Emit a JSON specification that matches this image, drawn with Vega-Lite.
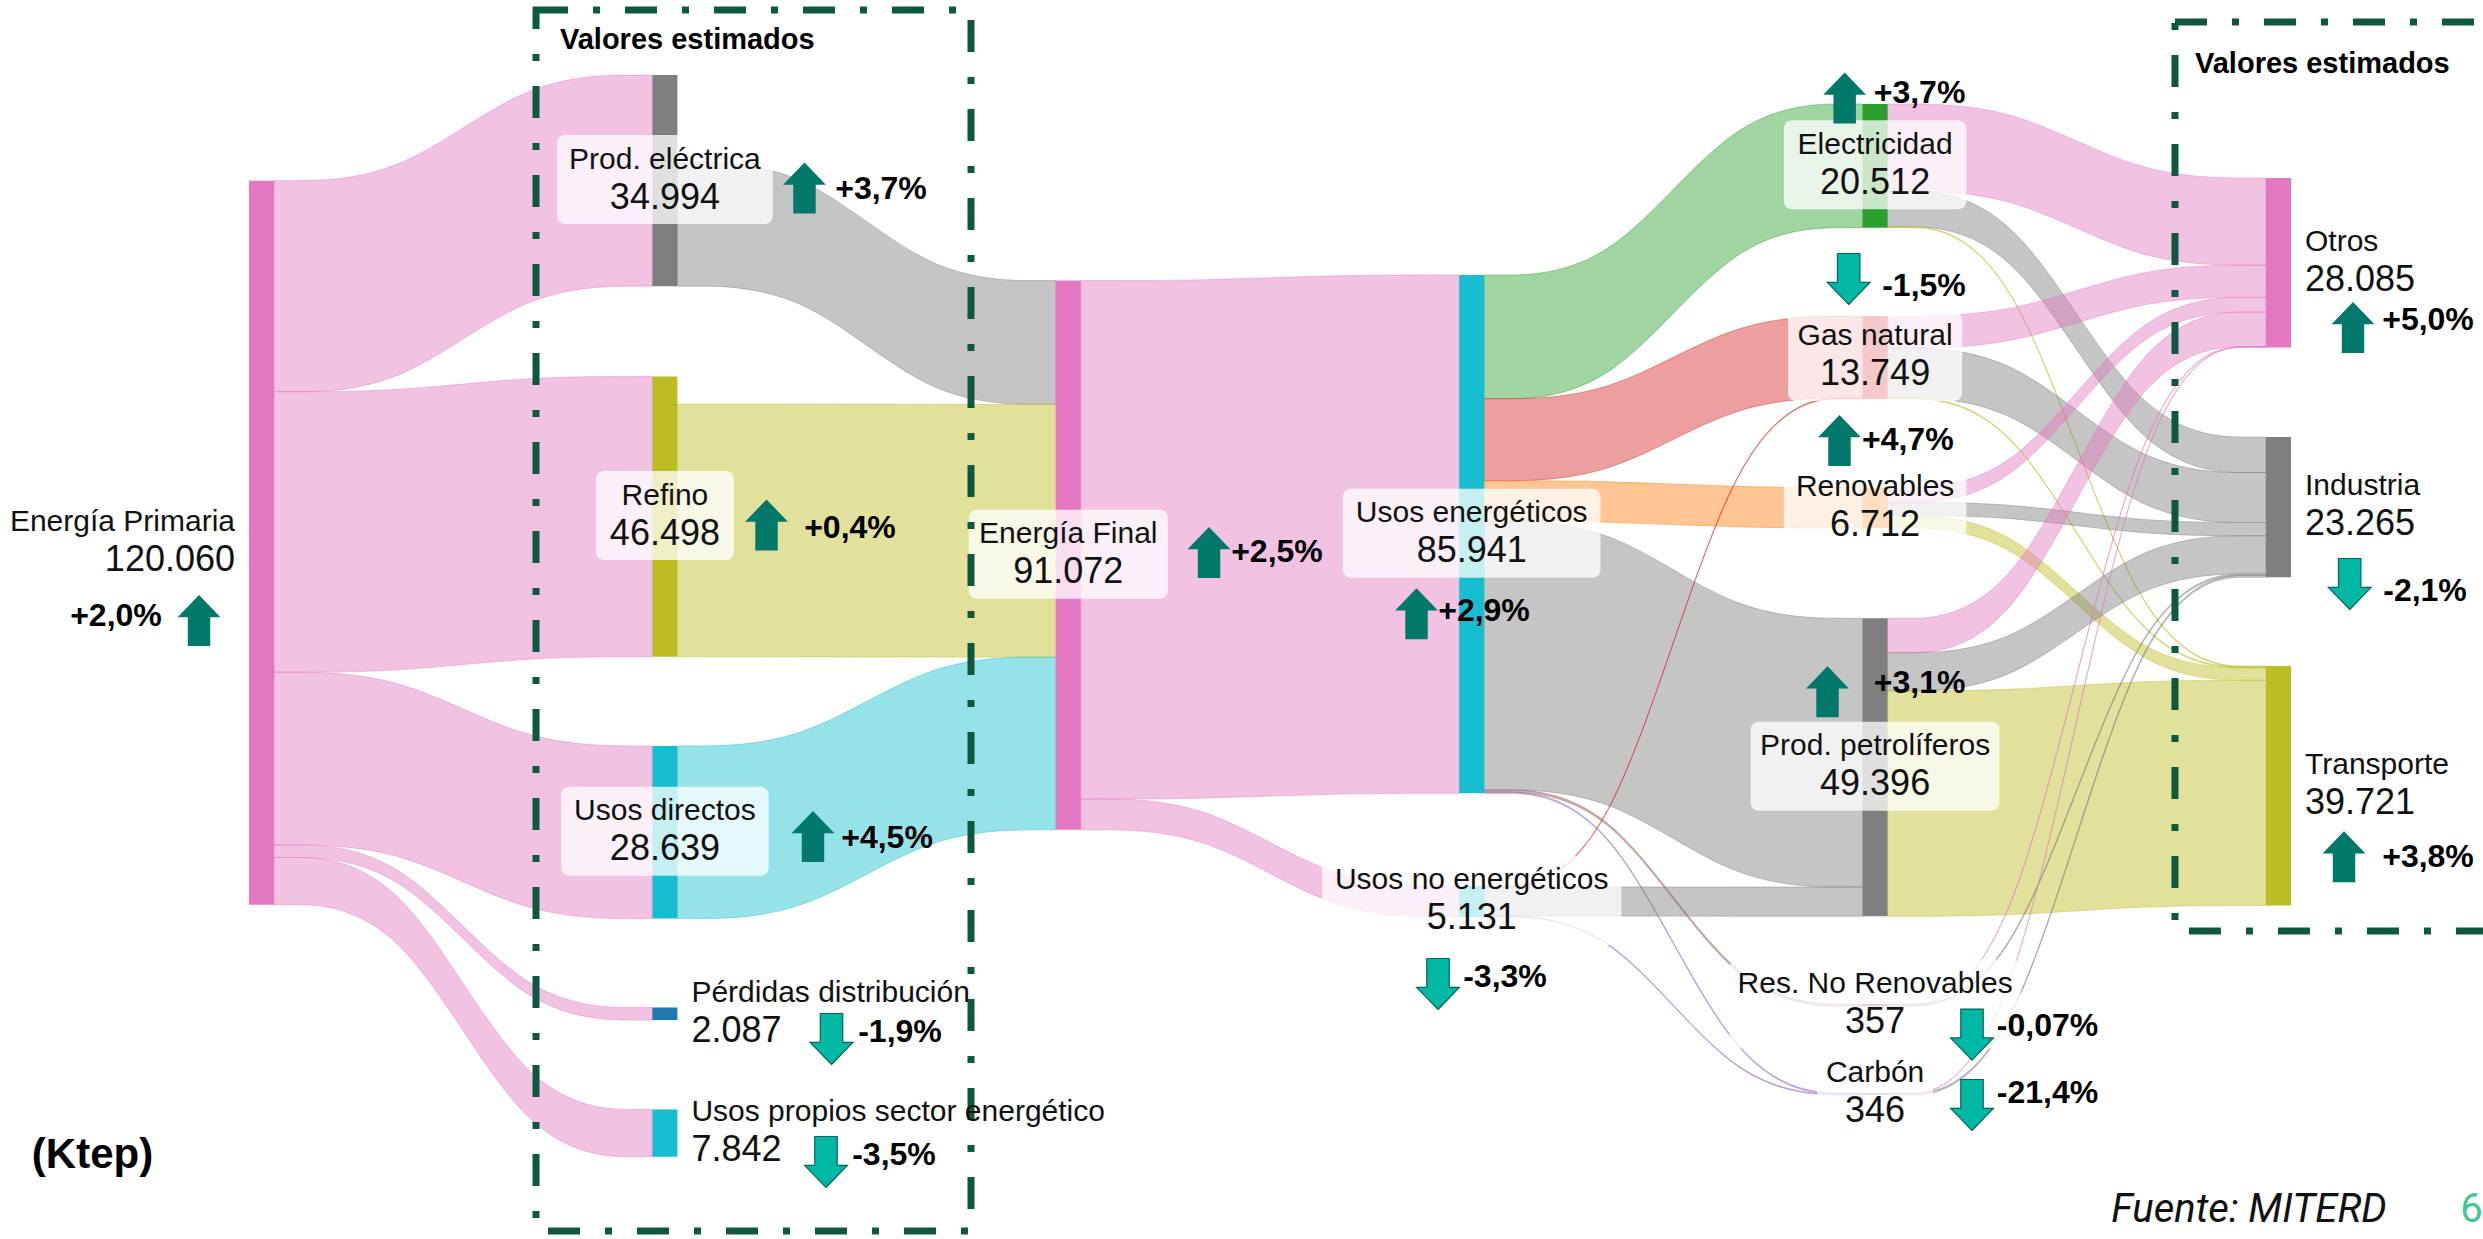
{
  "$schema": "https://vega.github.io/schema/vega-lite/v6.json",
  "width": 2483,
  "height": 1239,
  "padding": 0,
  "autosize": {"type": "none"},
  "background": "white",
  "config": {"view": {"stroke": null}},
  "datasets": {
    "nodos": [
      {"nodo": "Energía Primaria", "etapa": 0, "base": 29962, "valor": 120060, "lado": "izq"},
      {"nodo": "Prod. eléctrica", "etapa": 1, "base": 12452, "valor": 34994, "lado": "centro"},
      {"nodo": "Refino", "etapa": 1, "base": 62411, "valor": 46498, "lado": "centro"},
      {"nodo": "Usos directos", "etapa": 1, "base": 123678, "valor": 28639, "lado": "centro"},
      {"nodo": "Pérdidas distribución", "etapa": 1, "base": 167054, "valor": 2087, "lado": "der"},
      {"nodo": "Usos propios sector energético", "etapa": 1, "base": 183950, "valor": 7842, "lado": "der"},
      {"nodo": "Energía Final", "etapa": 2, "base": 46526, "valor": 91072, "lado": "centro"},
      {"nodo": "Usos energéticos", "etapa": 3, "base": 45598, "valor": 85941, "lado": "centro"},
      {"nodo": "Usos no energéticos", "etapa": 3, "base": 146908, "valor": 5131, "lado": "centro"},
      {"nodo": "Electricidad", "etapa": 4, "base": 17244, "valor": 20512, "lado": "centro"},
      {"nodo": "Gas natural", "etapa": 4, "base": 52396, "valor": 13749, "lado": "centro"},
      {"nodo": "Renovables", "etapa": 4, "base": 80832, "valor": 6712, "lado": "centro"},
      {"nodo": "Prod. petrolíferos", "etapa": 4, "base": 102520, "valor": 49396, "lado": "centro"},
      {"nodo": "Res. No Renovables", "etapa": 4, "base": 166473, "valor": 357, "lado": "centro"},
      {"nodo": "Carbón", "etapa": 4, "base": 181230, "valor": 346, "lado": "centro"},
      {"nodo": "Otros", "etapa": 5, "base": 29514, "valor": 28085, "lado": "der"},
      {"nodo": "Industria", "etapa": 5, "base": 72459, "valor": 23265, "lado": "der"},
      {"nodo": "Transporte", "etapa": 5, "base": 110429, "valor": 39721, "lado": "der"}
    ],
    "enlaces": [
      {"origen": "Energía Primaria", "destino": "Prod. eléctrica", "flujo": 34994},
      {"origen": "Energía Primaria", "destino": "Refino", "flujo": 46498},
      {"origen": "Energía Primaria", "destino": "Usos directos", "flujo": 28639},
      {"origen": "Energía Primaria", "destino": "Pérdidas distribución", "flujo": 2087},
      {"origen": "Energía Primaria", "destino": "Usos propios sector energético", "flujo": 7842},
      {"origen": "Prod. eléctrica", "destino": "Energía Final", "flujo": 20512},
      {"origen": "Refino", "destino": "Energía Final", "flujo": 41921},
      {"origen": "Usos directos", "destino": "Energía Final", "flujo": 28639},
      {"origen": "Energía Final", "destino": "Usos energéticos", "flujo": 85941},
      {"origen": "Energía Final", "destino": "Usos no energéticos", "flujo": 5131},
      {"origen": "Usos energéticos", "destino": "Electricidad", "flujo": 20512},
      {"origen": "Usos energéticos", "destino": "Gas natural", "flujo": 13599},
      {"origen": "Usos energéticos", "destino": "Renovables", "flujo": 6712},
      {"origen": "Usos energéticos", "destino": "Prod. petrolíferos", "flujo": 44561},
      {"origen": "Usos energéticos", "destino": "Res. No Renovables", "flujo": 357},
      {"origen": "Usos energéticos", "destino": "Carbón", "flujo": 200},
      {"origen": "Usos no energéticos", "destino": "Gas natural", "flujo": 150},
      {"origen": "Usos no energéticos", "destino": "Prod. petrolíferos", "flujo": 4835},
      {"origen": "Usos no energéticos", "destino": "Carbón", "flujo": 146},
      {"origen": "Electricidad", "destino": "Otros", "flujo": 14462},
      {"origen": "Electricidad", "destino": "Industria", "flujo": 5900},
      {"origen": "Electricidad", "destino": "Transporte", "flujo": 150},
      {"origen": "Gas natural", "destino": "Otros", "flujo": 5320},
      {"origen": "Gas natural", "destino": "Industria", "flujo": 8278},
      {"origen": "Gas natural", "destino": "Transporte", "flujo": 151},
      {"origen": "Renovables", "destino": "Otros", "flujo": 2450},
      {"origen": "Renovables", "destino": "Industria", "flujo": 2200},
      {"origen": "Renovables", "destino": "Transporte", "flujo": 2062},
      {"origen": "Prod. petrolíferos", "destino": "Otros", "flujo": 5700},
      {"origen": "Prod. petrolíferos", "destino": "Industria", "flujo": 6338},
      {"origen": "Prod. petrolíferos", "destino": "Transporte", "flujo": 37358},
      {"origen": "Res. No Renovables", "destino": "Otros", "flujo": 107},
      {"origen": "Res. No Renovables", "destino": "Industria", "flujo": 250},
      {"origen": "Carbón", "destino": "Otros", "flujo": 46},
      {"origen": "Carbón", "destino": "Industria", "flujo": 300}
    ],
    "notas": [
      {"nodo": "Energía Primaria", "cambio": 2.0, "ax": -0.1239, "ay": 102888, "tx": -0.3297, "ty": 102139},
      {"nodo": "Prod. eléctrica", "cambio": 3.7, "ax": 1.377, "ay": 31172, "tx": 1.5667, "ty": 31338},
      {"nodo": "Refino", "cambio": 0.4, "ax": 1.2829, "ay": 87050, "tx": 1.4898, "ty": 87548},
      {"nodo": "Usos directos", "cambio": 4.5, "ax": 1.3981, "ay": 138700, "tx": 1.5816, "ty": 138949},
      {"nodo": "Pérdidas distribución", "cambio": -1.9, "ax": 1.444, "ay": 172277, "tx": 1.6138, "ty": 171116},
      {"nodo": "Usos propios sector energético", "cambio": -3.5, "ax": 1.4303, "ay": 192671, "tx": 1.5989, "ty": 191511},
      {"nodo": "Energía Final", "cambio": 2.5, "ax": 2.3798, "ay": 91627, "tx": 2.5483, "ty": 91527},
      {"nodo": "Usos energéticos", "cambio": 2.9, "ax": 2.8942, "ay": 101774, "tx": 3.0615, "ty": 101260},
      {"nodo": "Usos no energéticos", "cambio": -3.3, "ax": 2.9475, "ay": 163157, "tx": 3.1135, "ty": 161996},
      {"nodo": "Electricidad", "cambio": 3.7, "ax": 3.9556, "ay": 16249, "tx": 4.1411, "ty": 15420},
      {"nodo": "Gas natural", "cambio": -1.5, "ax": 3.9655, "ay": 46261, "tx": 4.1522, "ty": 47339},
      {"nodo": "Renovables", "cambio": 4.7, "ax": 3.9427, "ay": 73056, "tx": 4.112, "ty": 72907},
      {"nodo": "Prod. petrolíferos", "cambio": 3.1, "ax": 3.913, "ay": 114691, "tx": 4.1415, "ty": 113331},
      {"nodo": "Res. No Renovables", "cambio": -0.07, "ax": 4.2712, "ay": 171547, "tx": 4.4584, "ty": 170121},
      {"nodo": "Carbón", "cambio": -21.4, "ax": 4.2712, "ay": 183220, "tx": 4.4584, "ty": 181230},
      {"nodo": "Otros", "cambio": 5.0, "ax": 5.2157, "ay": 54319, "tx": 5.4016, "ty": 53059},
      {"nodo": "Industria", "cambio": -2.1, "ax": 5.2075, "ay": 96833, "tx": 5.3942, "ty": 97994},
      {"nodo": "Transporte", "cambio": 3.8, "ax": 5.1934, "ay": 142066, "tx": 5.4016, "ty": 142182}
    ],
    "marcos": [
      {"titulo": "Valores estimados", "x0": 0.7115, "x1": 1.7898, "y0": 1658, "y1": 204112, "tx": 0.7709, "ty": 6632},
      {"titulo": "Valores estimados", "x0": 4.7744, "x1": 5.58, "y0": 3648, "y1": 154369, "tx": 4.824, "ty": 10612}
    ],
    "textos": [
      {"texto": "(Ktep)", "tipo": "unidad", "tx": -0.388, "ty": 191511},
      {"texto": "Fuente: MITERD", "tipo": "fuente", "tx": 4.9579, "ty": 200630},
      {"texto": "6", "tipo": "pagina", "tx": 5.5094, "ty": 200630}
    ]
  },
  "encoding": {
    "x": {"field": "X", "type": "quantitative", "scale": {"domain": [-0.61725, 5.53793], "nice": false, "zero": false}, "axis": null},
    "y": {"field": "Y", "type": "quantitative", "scale": {"domain": [0, 205439], "reverse": true, "nice": false, "zero": false}, "axis": null}
  },
  "layer": [
    {
      "data": {"name": "enlaces"},
      "transform": [
        {"lookup": "origen", "from": {"data": {"name": "nodos"}, "key": "nodo", "fields": ["etapa", "base", "valor"]}, "as": ["etO", "baseO", "valO"]},
        {"lookup": "destino", "from": {"data": {"name": "nodos"}, "key": "nodo", "fields": ["etapa", "base"]}, "as": ["etD", "baseD"]},
        {"joinaggregate": [{"op": "sum", "field": "flujo", "as": "salida"}], "groupby": ["origen"]},
        {"window": [{"op": "sum", "field": "flujo", "as": "acO"}], "groupby": ["origen"], "sort": [{"field": "baseD", "order": "ascending"}]},
        {"window": [{"op": "sum", "field": "flujo", "as": "acD"}], "groupby": ["destino"], "sort": [{"field": "baseO", "order": "ascending"}]},
        {"calculate": "datum.baseO + datum.valO - datum.salida + datum.acO - datum.flujo", "as": "yO"},
        {"calculate": "datum.baseD + datum.acD - datum.flujo", "as": "yD"},
        {"calculate": "datum.etO >= 3 ? datum.destino : datum.origen", "as": "tono"},
        {"calculate": "datum.origen + ' > ' + datum.destino", "as": "id"},
        {"calculate": "datum.etO + 0.062", "as": "p0"},
        {"calculate": "datum.p0 + (datum.etD - datum.p0) / 3", "as": "p1"},
        {"calculate": "datum.p0 + 2 * (datum.etD - datum.p0) / 3", "as": "p2"},
        {"calculate": "datum.etD", "as": "p3"},
        {"fold": ["p0", "p1", "p2", "p3"], "as": ["punto", "X"]},
        {"calculate": "(datum.punto == 'p0' || datum.punto == 'p1') ? datum.yO : datum.yD", "as": "Y"},
        {"calculate": "datum.Y + datum.flujo", "as": "Y2"}
      ],
      "mark": {"type": "area", "interpolate": "basis", "fillOpacity": 0.45, "strokeWidth": 0.8, "strokeOpacity": 0.55},
      "encoding": {
        "y2": {"field": "Y2"},
        "color": {"field": "tono", "type": "nominal", "legend": null, "scale": {"domain": ["Energía Primaria", "Prod. eléctrica", "Refino", "Usos directos", "Pérdidas distribución", "Usos propios sector energético", "Energía Final", "Usos energéticos", "Usos no energéticos", "Electricidad", "Gas natural", "Renovables", "Prod. petrolíferos", "Res. No Renovables", "Carbón", "Otros", "Industria", "Transporte"], "range": ["#e377c2", "#7f7f7f", "#bcbd22", "#17becf", "#1f77b4", "#17becf", "#e377c2", "#17becf", "#17becf", "#2ca02c", "#d62728", "#ff7f0e", "#7f7f7f", "#8c564b", "#9467bd", "#e377c2", "#7f7f7f", "#bcbd22"]}},
        "stroke": {"field": "tono", "type": "nominal", "legend": null, "scale": {"domain": ["Energía Primaria", "Prod. eléctrica", "Refino", "Usos directos", "Pérdidas distribución", "Usos propios sector energético", "Energía Final", "Usos energéticos", "Usos no energéticos", "Electricidad", "Gas natural", "Renovables", "Prod. petrolíferos", "Res. No Renovables", "Carbón", "Otros", "Industria", "Transporte"], "range": ["#e377c2", "#7f7f7f", "#bcbd22", "#17becf", "#1f77b4", "#17becf", "#e377c2", "#17becf", "#17becf", "#2ca02c", "#d62728", "#ff7f0e", "#7f7f7f", "#8c564b", "#9467bd", "#e377c2", "#7f7f7f", "#bcbd22"]}},
        "detail": {"field": "id", "type": "nominal"}
      }
    },
    {
      "data": {"name": "nodos"},
      "transform": [
        {"calculate": "datum.etapa", "as": "X"},
        {"calculate": "datum.etapa + 0.062", "as": "X2"},
        {"calculate": "datum.base", "as": "Y"},
        {"calculate": "datum.base + datum.valor", "as": "Y2"}
      ],
      "mark": {"type": "rect"},
      "encoding": {
        "x2": {"field": "X2"},
        "y2": {"field": "Y2"},
        "color": {"field": "nodo", "type": "nominal", "legend": null}
      }
    },
    {
      "data": {"name": "nodos"},
      "transform": [
        {"filter": "datum.lado == 'centro'"},
        {"calculate": "length(datum.nodo) - length(replace(datum.nodo, regexp('[ilrtfjí. ]', 'g'), ''))", "as": "estrechas"},
        {"calculate": "(length(datum.nodo) - datum.estrechas) * 16.7 + datum.estrechas * 8.3", "as": "anchoNombre"},
        {"calculate": "length(replace(format(datum.valor, ','), ',', '.')) * 19", "as": "anchoCifra"},
        {"calculate": "(max(datum.anchoNombre, datum.anchoCifra) + 24) * 0.0024789", "as": "anchoCaja"},
        {"calculate": "datum.etapa + 0.031 - datum.anchoCaja / 2", "as": "X"},
        {"calculate": "datum.etapa + 0.031 + datum.anchoCaja / 2", "as": "X2"},
        {"calculate": "datum.base + datum.valor / 2 - 7544", "as": "Y"},
        {"calculate": "datum.base + datum.valor / 2 + 7213", "as": "Y2"}
      ],
      "mark": {"type": "rect", "color": "white", "opacity": 0.75, "cornerRadius": 8},
      "encoding": {
        "x2": {"field": "X2"},
        "y2": {"field": "Y2"}
      }
    },
    {
      "data": {"name": "marcos"},
      "transform": [
        {"calculate": "datum.x0", "as": "X"},
        {"calculate": "datum.x1", "as": "X2"},
        {"calculate": "datum.y0", "as": "Y"},
        {"calculate": "datum.y1", "as": "Y2"}
      ],
      "mark": {"type": "rect", "filled": false, "stroke": "#0f5840", "strokeWidth": 7, "strokeDash": [32, 25, 7, 25]},
      "encoding": {
        "x2": {"field": "X2"},
        "y2": {"field": "Y2"}
      }
    },
    {
      "data": {"name": "marcos"},
      "transform": [
        {"calculate": "datum.tx", "as": "X"},
        {"calculate": "datum.ty", "as": "Y"}
      ],
      "mark": {"type": "text", "align": "left", "baseline": "middle", "font": "Liberation Sans", "fontWeight": "bold", "fontSize": 29, "color": "#000000"},
      "encoding": {"text": {"field": "titulo"}}
    },
    {
      "data": {"name": "nodos"},
      "transform": [
        {"calculate": "datum.base + datum.valor / 2", "as": "Y"},
        {"calculate": "datum.lado == 'izq' ? datum.etapa - 0.0347 : (datum.lado == 'der' ? datum.etapa + 0.0967 : datum.etapa + 0.031)", "as": "X"},
        {"calculate": "replace(format(datum.valor, ','), ',', '.')", "as": "cifra"}
      ],
      "layer": [
        {"transform": [{"filter": "datum.lado == 'izq'"}], "mark": {"type": "text", "align": "right", "baseline": "middle", "dy": -21, "font": "Liberation Sans", "fontSize": 30, "color": "#111111"}, "encoding": {"text": {"field": "nodo"}}},
        {"transform": [{"filter": "datum.lado == 'izq'"}], "mark": {"type": "text", "align": "right", "baseline": "middle", "dy": 17, "font": "Liberation Sans", "fontSize": 36, "color": "#111111"}, "encoding": {"text": {"field": "cifra"}}},
        {"transform": [{"filter": "datum.lado == 'der'"}], "mark": {"type": "text", "align": "left", "baseline": "middle", "dy": -21, "font": "Liberation Sans", "fontSize": 30, "color": "#111111"}, "encoding": {"text": {"field": "nodo"}}},
        {"transform": [{"filter": "datum.lado == 'der'"}], "mark": {"type": "text", "align": "left", "baseline": "middle", "dy": 17, "font": "Liberation Sans", "fontSize": 36, "color": "#111111"}, "encoding": {"text": {"field": "cifra"}}},
        {"transform": [{"filter": "datum.lado == 'centro'"}], "mark": {"type": "text", "align": "center", "baseline": "middle", "dy": -21, "font": "Liberation Sans", "fontSize": 30, "color": "#111111"}, "encoding": {"text": {"field": "nodo"}}},
        {"transform": [{"filter": "datum.lado == 'centro'"}], "mark": {"type": "text", "align": "center", "baseline": "middle", "dy": 17, "font": "Liberation Sans", "fontSize": 36, "color": "#111111"}, "encoding": {"text": {"field": "cifra"}}}
      ]
    },
    {
      "data": {"name": "notas"},
      "transform": [
        {"calculate": "datum.ax", "as": "X"},
        {"calculate": "datum.ay", "as": "Y"}
      ],
      "layer": [
        {"transform": [{"filter": "datum.cambio > 0"}], "mark": {"type": "point", "shape": "M0,-1L0.84,-0.13L0.44,-0.13L0.44,1L-0.44,1L-0.44,-0.13L-0.84,-0.13Z", "filled": true, "color": "#00796b", "size": 2600, "opacity": 1}},
        {"transform": [{"filter": "datum.cambio < 0"}], "mark": {"type": "point", "shape": "M0,1L0.84,0.13L0.44,0.13L0.44,-1L-0.44,-1L-0.44,0.13L-0.84,0.13Z", "filled": true, "color": "#00b8a3", "stroke": "#00665a", "strokeWidth": 1.2, "size": 2600, "opacity": 1}}
      ]
    },
    {
      "data": {"name": "notas"},
      "transform": [
        {"calculate": "datum.tx", "as": "X"},
        {"calculate": "datum.ty", "as": "Y"},
        {"calculate": "(datum.cambio > 0 ? '+' : '-') + replace(format(abs(datum.cambio), abs(datum.cambio) < 0.1 ? '.2f' : '.1f'), '.', ',') + '%'", "as": "etiqueta"}
      ],
      "mark": {"type": "text", "align": "center", "baseline": "middle", "font": "Liberation Sans", "fontWeight": "bold", "fontSize": 32, "color": "#000000"},
      "encoding": {"text": {"field": "etiqueta"}}
    },
    {
      "data": {"name": "textos"},
      "transform": [
        {"calculate": "datum.tx", "as": "X"},
        {"calculate": "datum.ty", "as": "Y"}
      ],
      "layer": [
        {"transform": [{"filter": "datum.tipo == 'unidad'"}], "mark": {"type": "text", "align": "center", "baseline": "middle", "font": "Liberation Sans", "fontWeight": "bold", "fontSize": 42, "color": "#000000"}, "encoding": {"text": {"field": "texto"}}},
        {"transform": [{"filter": "datum.tipo == 'fuente'"}], "mark": {"type": "text", "align": "center", "baseline": "middle", "font": "Roboto", "fontStyle": "italic", "fontSize": 40, "color": "#111111"}, "encoding": {"text": {"field": "texto"}}},
        {"transform": [{"filter": "datum.tipo == 'pagina'"}], "mark": {"type": "text", "align": "center", "baseline": "middle", "font": "Roboto", "fontSize": 40, "color": "#3cc98f"}, "encoding": {"text": {"field": "texto"}}}
      ]
    }
  ]
}
